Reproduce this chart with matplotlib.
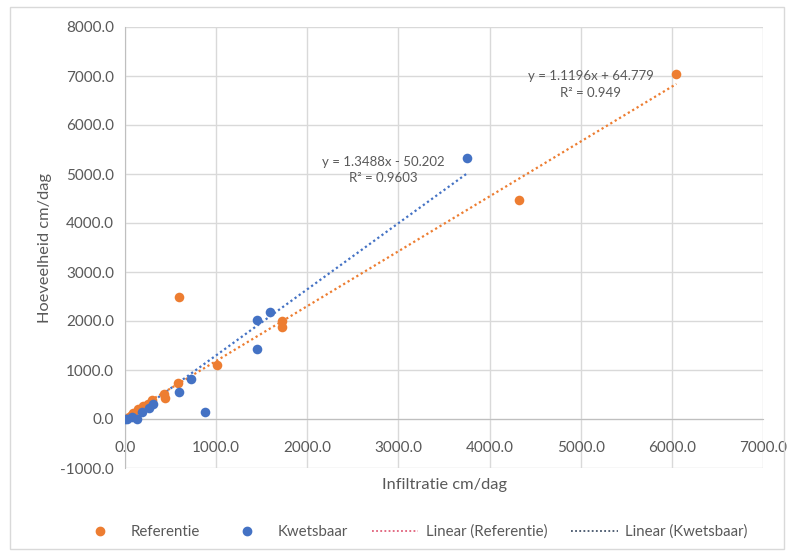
import matplotlib
matplotlib.use("Agg")
import matplotlib.pyplot as plt
from matplotlib.lines import Line2D
from matplotlib.patches import Rectangle
import numpy as np

plt.rcParams['font.family'] = ['Lato', 'DejaVu Sans']

# Infiltration vs. amount, two groups
ref_x = [6050, 4320, 590, 1720, 1720, 1010, 580, 430, 440, 300, 250, 200, 140, 90, 40]
ref_y = [7050, 4460, 2500, 1990, 1870, 1110, 730, 520, 430, 380, 310, 260, 200, 120, 50]

kw_x = [3750, 1590, 1450, 1450, 720, 880, 590, 310, 260, 190, 130, 80, 20, 0]
kw_y = [5320, 2190, 2030, 1420, 810, 140, 560, 300, 230, 150, 10, 50, 0, 10]

# Linear trendline coefficients (slope, intercept, R²)
ref_fit = (1.1196, 64.779, 0.949)
kw_fit = (1.3488, -50.202, 0.9603)

x_ticks = np.arange(0, 7001, 1000)
y_ticks = np.arange(-1000, 8001, 1000)

orange = '#ED7D31'
blue = '#4472C4'
text_col = '#595959'
grid_col = '#D9D9D9'

fig = plt.figure(figsize=(7.94, 5.56), dpi=100)
fig.patches.append(Rectangle((0.012, 0.012), 0.976, 0.976, transform=fig.transFigure,
                             fill=False, edgecolor='#D9D9D9', linewidth=1.0))
ax = fig.add_axes([125 / 794, 1 - 468 / 556, (763 - 125) / 794, (468 - 27) / 556])

ax.set_xlim(0, 7000)
ax.set_ylim(-1000, 8000)
ax.set_xticks(x_ticks)
ax.set_yticks(y_ticks)
ax.set_xticklabels([f"{v:.1f}" for v in x_ticks])
ax.set_yticklabels([f"{v:.1f}" for v in y_ticks])
ax.grid(True, color=grid_col, linewidth=1.0)
ax.set_axisbelow(True)

for side in ['top', 'right']:
    ax.spines[side].set_visible(False)
ax.spines['bottom'].set_position(('data', 0))
ax.spines['bottom'].set_color('#BFBFBF')
ax.spines['left'].set_color('#BFBFBF')
ax.tick_params(length=0, colors=text_col, labelsize=11)
ax.tick_params(axis='x', pad=16)
ax.tick_params(axis='y', pad=8)

ax.scatter(ref_x, ref_y, s=48, color=orange, zorder=3, linewidths=0)
ax.scatter(kw_x, kw_y, s=48, color=blue, zorder=3, linewidths=0)

dot = (0, (1, 1.3))
for xs, fit, col in [(ref_x, ref_fit, orange), (kw_x, kw_fit, blue)]:
    xx = np.array([min(xs), max(xs)])
    ax.plot(xx, fit[0] * xx + fit[1], linestyle=dot, color=col, linewidth=1.6, zorder=2)


def eq_label(fit):
    sign = '+' if fit[1] >= 0 else '-'
    return f"y = {fit[0]}x {sign} {abs(fit[1])}\nR² = {fit[2]}"


ax.text(5110, 6830, eq_label(ref_fit), ha='center', va='center', color=text_col,
        fontsize=9.5, linespacing=1.45)
ax.text(2830, 5080, eq_label(kw_fit), ha='center', va='center', color=text_col,
        fontsize=9.5, linespacing=1.45)

fig.text(45 / 794, 1 - 248 / 556, 'Hoeveelheid cm/dag', rotation=90, ha='center',
         va='center', color=text_col, fontsize=11.8)
fig.text(444 / 794, 1 - 485 / 556, 'Infiltratie cm/dag', ha='center', va='center',
         color=text_col, fontsize=11.8)

handles = [
    Line2D([], [], linestyle='none', marker='o', markersize=6, color=orange),
    Line2D([], [], linestyle='none', marker='o', markersize=6, color=blue),
    Line2D([], [], linestyle=dot, color='#E0607A', linewidth=1.3),
    Line2D([], [], linestyle=dot, color='#44546A', linewidth=1.3),
]
labels = ['Referentie', 'Kwetsbaar', 'Linear (Referentie)', 'Linear (Kwetsbaar)']
leg = fig.legend(handles, labels, loc='center', bbox_to_anchor=(412 / 794, 1 - 532 / 556),
                 ncol=4, frameon=False, fontsize=10.8, handlelength=3.1,
                 columnspacing=1.6, handletextpad=0.5)
for t in leg.get_texts():
    t.set_color(text_col)

fig.savefig('out.png', dpi=100, facecolor='white')
